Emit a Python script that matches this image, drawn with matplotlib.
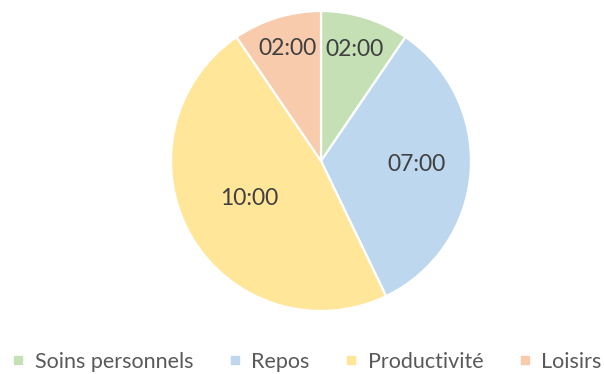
import matplotlib
matplotlib.use("Agg")
import matplotlib.pyplot as plt
from matplotlib.lines import Line2D
import numpy as np

categories = ["Soins personnels", "Repos", "Productivité", "Loisirs"]
hours = [2, 7, 10, 2]
labels = ["02:00", "07:00", "10:00", "02:00"]
colors = ["#C5E0B4", "#BDD7EE", "#FFE699", "#F8CBAD"]

plt.rcParams["font.family"] = ["Lato", "DejaVu Sans"]

W, H = 604, 374
fig = plt.figure(figsize=(W / 100, H / 100), dpi=100)
fig.patch.set_facecolor("white")

cx, cy, r = 321, 161, 150
ax = fig.add_axes([(cx - r) / W, (H - cy - r) / H, 2 * r / W, 2 * r / H])

wedges, _ = ax.pie(hours, colors=colors, startangle=90, counterclock=False,
                   radius=1, wedgeprops=dict(edgecolor="white", linewidth=1.6))
ax.set_xlim(-1, 1)
ax.set_ylim(-1, 1)
ax.axis("off")

# label radius per slice (small slices pushed outward)
dists = [0.755, 0.64, 0.555, 0.76]
for w, lab, d in zip(wedges, labels, dists):
    ang = np.deg2rad((w.theta1 + w.theta2) / 2)
    ax.text(d * np.cos(ang), d * np.sin(ang) + 0.025, lab, ha="center",
            va="center", fontsize=16.5, color="#404040")

handles = [Line2D([], [], marker="s", linestyle="none", markersize=6,
                  markerfacecolor=c, markeredgecolor=c) for c in colors]
fig.legend(handles, categories, loc="center", bbox_to_anchor=(0.508, 1 - 362 / H),
           ncol=4, frameon=False, fontsize=15.5, handlelength=0.6,
           handletextpad=0.45, columnspacing=1.65, labelcolor="#595959")

fig.savefig("out.png", dpi=100, facecolor="white")
